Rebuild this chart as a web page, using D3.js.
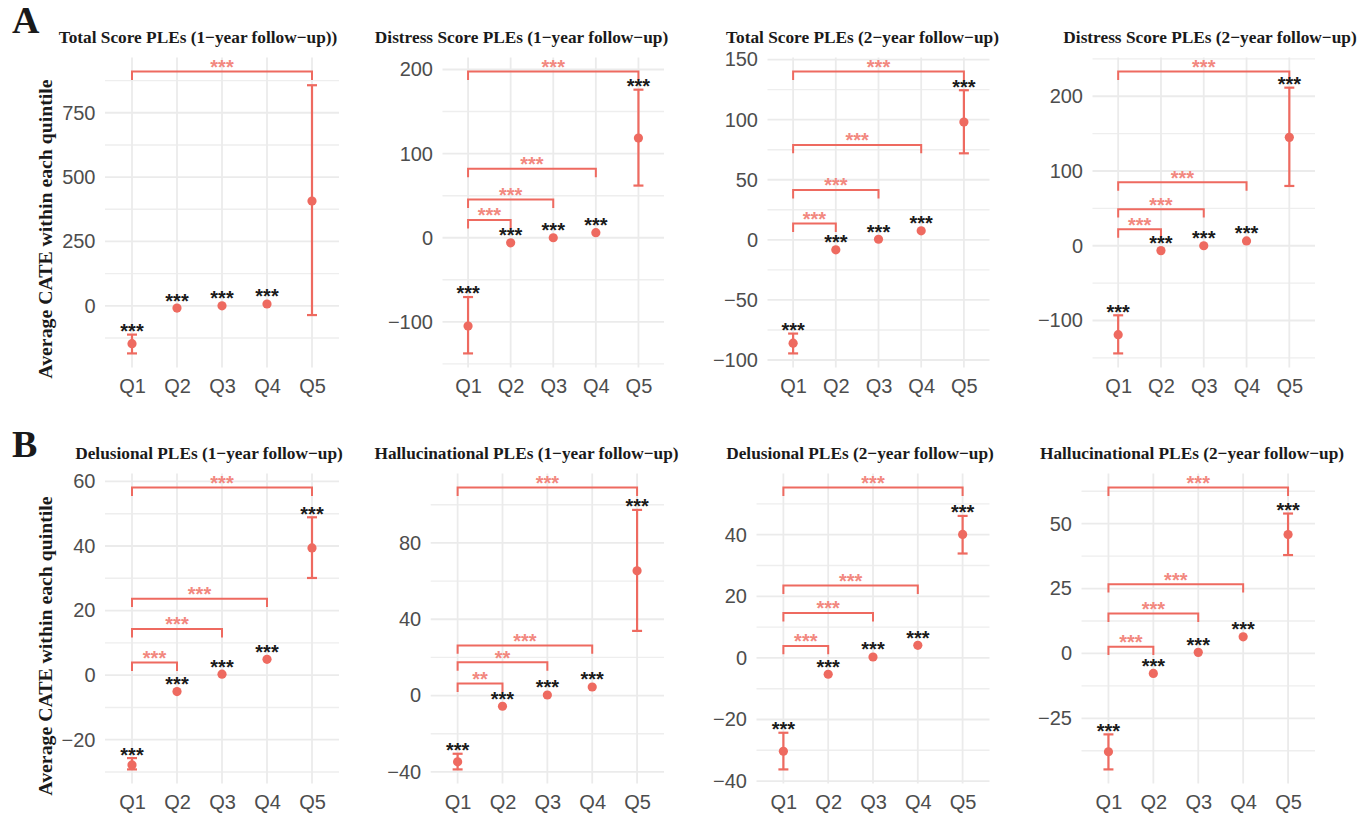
<!DOCTYPE html>
<html><head><meta charset="utf-8">
<script src="https://cdn.jsdelivr.net/npm/d3@7"></script>
<style>body{margin:0;background:#fff}</style>
</head><body>
<svg id="chart" width="1363" height="817"></svg>
<script>
// ---------- DATA ----------
const quintiles = ["Q1", "Q2", "Q3", "Q4", "Q5"];
const panelLetters = ["A", "B"];
const yAxisTitle = "Average CATE within each quintile";
const panelTitles = [
  "Total Score PLEs (1\u2212year follow\u2212up))",
  "Distress Score PLEs (1\u2212year follow\u2212up)",
  "Total Score PLEs (2\u2212year follow\u2212up)",
  "Distress Score PLEs (2\u2212year follow\u2212up)",
  "Delusional PLEs (1\u2212year follow\u2212up)",
  "Hallucinational PLEs (1\u2212year follow\u2212up)",
  "Delusional PLEs (2\u2212year follow\u2212up)",
  "Hallucinational PLEs (2\u2212year follow\u2212up)"
];
const cateMean = [
  [-147, -9, 0, 7, 407],
  [-105, -6, 0, 6, 118.5],
  [-86, -8.3, 0.5, 7.5, 98],
  [-119, -6.5, 0, 6.5, 145],
  [-27.8, -5.1, 0.3, 4.9, 39.4],
  [-34.7, -5.6, 0.3, 4.5, 65.4],
  [-30.3, -5.3, 0.3, 4.1, 40.1],
  [-37.9, -7.7, 0.4, 6.4, 45.8]
];
const ciLower = [
  [-185, null, null, null, -36],
  [-137.5, null, null, null, 62],
  [-94.5, null, null, null, 72],
  [-144, null, null, null, 80],
  [-29.2, null, null, null, 30.1],
  [-38.7, null, null, null, 33.9],
  [-36.2, null, null, null, 33.9],
  [-44.7, null, null, null, 37.9]
];
const ciUpper = [
  [-112, null, null, null, 857],
  [-70.5, null, null, null, 176],
  [-78, null, null, null, 124.5],
  [-93, null, null, null, 211.5],
  [-25.7, null, null, null, 48.9],
  [-30.5, null, null, null, 97.3],
  [-24.3, null, null, null, 46.1],
  [-31.2, null, null, null, 53.9]
];
const quintileSig = [
  ["***", "***", "***", "***", ""],
  ["***", "***", "***", "***", "***"],
  ["***", "***", "***", "***", "***"],
  ["***", "***", "***", "***", "***"],
  ["***", "***", "***", "***", "***"],
  ["***", "***", "***", "***", "***"],
  ["***", "***", "***", "***", "***"],
  ["***", "***", "***", "***", "***"]
];
const bracketFrom = "Q1";
const bracketTo = [
  ["Q5"],
  ["Q2", "Q3", "Q4", "Q5"],
  ["Q2", "Q3", "Q4", "Q5"],
  ["Q2", "Q3", "Q4", "Q5"],
  ["Q2", "Q3", "Q4", "Q5"],
  ["Q2", "Q3", "Q4", "Q5"],
  ["Q2", "Q3", "Q4", "Q5"],
  ["Q2", "Q3", "Q4", "Q5"]
];
const bracketY = [
  [910],
  [21, 45.5, 82, 197.5],
  [13.5, 41.5, 79, 140],
  [22, 49, 85, 233],
  [3.9, 14.3, 23.7, 58.1],
  [6.3, 17.4, 26.3, 109],
  [3.9, 14.6, 23.5, 55.3],
  [2.6, 15.4, 26.7, 63.9]
];
const bracketSig = [
  ["***"],
  ["***", "***", "***", "***"],
  ["***", "***", "***", "***"],
  ["***", "***", "***", "***"],
  ["***", "***", "***", "***"],
  ["**", "**", "***", "***"],
  ["***", "***", "***", "***"],
  ["***", "***", "***", "***"]
];
const yTicks = [
  [0, 250, 500, 750],
  [-100, 0, 100, 200],
  [-100, -50, 0, 50, 100, 150],
  [-100, 0, 100, 200],
  [-20, 0, 20, 40, 60],
  [-40, 0, 40, 80],
  [-40, -20, 0, 20, 40],
  [-25, 0, 25, 50]
];

// ---------- LAYOUT ----------
const colRight = [339, 664, 989.5, 1315];
const plotLeft = [[105, 442.5, 767.5, 1092.5], [105, 430.7, 756.5, 1081.5]];
const rowTop = [57.5, 473.5];
const plotH = 310;
const titleX = [[198, 521.5, 862.5, 1210], [209, 526.5, 860, 1192]];
const titleY = [42.5, 458.5];
const RED = "#EE6A60", RED_TXT = "#F2887F", GRID = "#EBEBEB", GRID_MINOR = "#EEEEEE";
const SANS = "'Liberation Sans', Arial, sans-serif";
const SERIF = "'Liberation Serif', 'Times New Roman', serif";

const svg = d3.select("#chart");
svg.append("rect").attr("width", 1363).attr("height", 817).attr("fill", "#fff");

// panel letters & y-axis titles
panelLetters.forEach((L, r) => {
  svg.append("text").attr("x", 12).attr("y", r === 0 ? 33 : 457)
    .attr("font-family", SERIF).attr("font-weight", "bold").attr("font-size", 38)
    .attr("fill", "#1a1a1a").text(L);
  const cy = r === 0 ? 229 : 646;
  svg.append("text").attr("transform", `translate(52,${cy}) rotate(-90)`)
    .attr("text-anchor", "middle").attr("font-family", SERIF).attr("font-weight", "bold")
    .attr("font-size", 19.8).attr("fill", "#1a1a1a").text(yAxisTitle);
});

const starFS = 20;
panelTitles.forEach((title, i) => {
  const row = Math.floor(i / 4), col = i % 4;
  const left = plotLeft[row][col], right = colRight[col];
  const top = rowTop[row], bottom = top + plotH;
  const g = svg.append("g");

  const means = cateMean[i], lows = ciLower[i], ups = ciUpper[i];
  const allVals = means.concat(lows.filter(v => v != null), ups.filter(v => v != null), bracketY[i]);
  const lo = d3.min(allVals), hi = d3.max(allVals), span = hi - lo;
  const y = d3.scaleLinear().domain([lo - 0.05 * span, hi + 0.05 * span]).range([bottom, top]);
  const x = d3.scalePoint().domain(quintiles).range([left, right]).padding(0.6);

  // grid
  const t = yTicks[i], step = t[1] - t[0];
  const [d0, d1] = y.domain();
  const minors = [];
  for (let v = t[0] - step / 2; v <= d1; v += step) if (v >= d0) minors.push(v);
  g.selectAll(".minor").data(minors).enter().append("line")
    .attr("x1", left).attr("x2", right).attr("y1", d => y(d)).attr("y2", d => y(d))
    .attr("stroke", GRID_MINOR).attr("stroke-width", 1.4);
  g.selectAll(".major").data(t).enter().append("line")
    .attr("x1", left).attr("x2", right).attr("y1", d => y(d)).attr("y2", d => y(d))
    .attr("stroke", GRID).attr("stroke-width", 1.8);
  g.selectAll(".vgrid").data(quintiles).enter().append("line")
    .attr("x1", d => x(d)).attr("x2", d => x(d)).attr("y1", top).attr("y2", bottom)
    .attr("stroke", GRID).attr("stroke-width", 1.8);

  // axes
  const ya = g.append("g").attr("transform", `translate(${left},0)`)
    .call(d3.axisLeft(y).tickValues(t).tickSize(0).tickPadding(9.5));
  ya.select(".domain").remove();
  ya.selectAll("text").attr("font-family", SANS).attr("font-size", 20).attr("fill", "#4D4D4D");
  const xa = g.append("g").attr("transform", `translate(0,${bottom})`)
    .call(d3.axisBottom(x).tickSize(0).tickPadding(11));
  xa.select(".domain").remove();
  xa.selectAll("text").attr("font-family", SANS).attr("font-size", 20).attr("fill", "#4D4D4D");

  // title
  svg.append("text").attr("x", titleX[row][col]).attr("y", titleY[row])
    .attr("text-anchor", "middle").attr("font-family", SERIF).attr("font-weight", "bold")
    .attr("font-size", 17.3).attr("fill", "#1a1a1a").text(title);

  // brackets
  const tip = 0.03 * span * (plotH / (d1 - d0));
  bracketTo[i].forEach((to, k) => {
    const yb = y(bracketY[i][k]);
    const x1 = x(bracketFrom), x2 = x(to);
    g.append("path")
      .attr("d", `M${x1},${yb + tip}L${x1},${yb}L${x2},${yb}L${x2},${yb + tip}`)
      .attr("fill", "none").attr("stroke", RED).attr("stroke-width", 2);
    g.append("text").attr("x", (x1 + x2) / 2).attr("y", yb - 9 + 0.57 * starFS)
      .attr("text-anchor", "middle").attr("font-family", SANS).attr("font-weight", "bold")
      .attr("font-size", starFS).attr("fill", RED_TXT).text(bracketSig[i][k]);
  });

  // error bars
  quintiles.forEach((q, j) => {
    if (lows[j] == null) return;
    const xc = x(q);
    g.append("line").attr("x1", xc).attr("x2", xc).attr("y1", y(lows[j])).attr("y2", y(ups[j]))
      .attr("stroke", RED).attr("stroke-width", 2.2);
    [lows[j], ups[j]].forEach(v => {
      g.append("line").attr("x1", xc - 5).attr("x2", xc + 5).attr("y1", y(v)).attr("y2", y(v))
        .attr("stroke", RED).attr("stroke-width", 2.2);
    });
  });
  // points
  g.selectAll(".pt").data(quintiles).enter().append("circle")
    .attr("cx", d => x(d)).attr("cy", (d, j) => y(means[j])).attr("r", 4.6).attr("fill", RED);

  // quintile significance stars
  quintiles.forEach((q, j) => {
    const lab = quintileSig[i][j];
    if (!lab) return;
    const c = ups[j] != null ? y(ups[j]) - 8 : y(means[j]) - 12;
    g.append("text").attr("x", x(q)).attr("y", c + 0.57 * starFS)
      .attr("text-anchor", "middle").attr("font-family", SANS).attr("font-weight", "bold")
      .attr("font-size", starFS).attr("fill", "#1a1a1a").text(lab);
  });
});
</script>
</body></html>
